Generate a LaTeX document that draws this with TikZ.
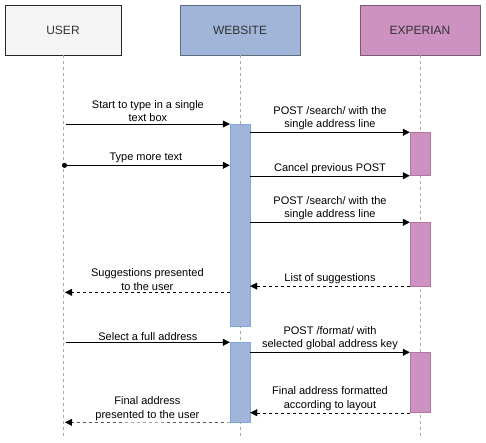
\documentclass[tikz,border=0pt]{standalone}
\usepackage{fontspec}
\setmainfont{Liberation Sans}
\usetikzlibrary{arrows.meta,positioning}

\definecolor{usergray}{HTML}{F5F5F5}
\definecolor{webblue}{HTML}{A0B5D8}
\definecolor{webedge}{HTML}{5F6B7C}
\definecolor{webbar}{HTML}{7EA6E0}
\definecolor{expink}{HTML}{CD92C1}
\definecolor{expedge}{HTML}{7A5A73}
\definecolor{expbar}{HTML}{B5739D}
\definecolor{lifegray}{HTML}{AAAAAA}

\begin{document}
\begin{tikzpicture}[x=1pt,y=-1pt,
    font=\fontsize{11}{13.5}\selectfont,
    head/.style={draw,minimum height=50pt,text=black!80,font=\fontsize{12}{14}\selectfont},
    bar/.style={draw,anchor=north,minimum width=20pt,inner sep=0pt},
    life/.style={lifegray,dash pattern=on 3pt off 3pt},
    msg/.style={-{Triangle[length=7pt,width=7pt]}},
    reply/.style={msg,dash pattern=on 3pt off 3pt},
    lbl/.style={midway,above,align=center,inner sep=2pt}]
      \useasboundingbox (0,0) rectangle (486,442);

      \node[head,fill=usergray,draw=black!85,minimum width=116pt] (user) at (63,30) {USER};
      \node[head,fill=webblue,draw=webedge,minimum width=120pt] (web) at (240,30) {WEBSITE};
      \node[head,fill=expink,draw=expedge,minimum width=120pt] (exp) at (420,30) {EXPERIAN};

      \coordinate (user_end) at (63,437);
      \coordinate (web_end) at (240,437);
      \coordinate (exp_end) at (420,437);
      \draw[life] (user) -- (user_end);
      \draw[life] (web) -- (web_end);
      \draw[life] (exp) -- (exp_end);

      \node[bar,fill=webblue,draw=webbar,minimum height=202pt] (web_a1) at (240,124) {};
      \node[bar,fill=webblue,draw=webbar,minimum height=80pt] (web_a2) at (240,342.3) {};
      \node[bar,fill=expink,draw=expbar,minimum height=43pt] (exp_a1) at (420,132.3) {};
      \node[bar,fill=expink,draw=expbar,minimum height=63.4pt] (exp_a2) at (420,222.3) {};
      \node[bar,fill=expink,draw=expbar,minimum height=60pt] (exp_a3) at (420,352.3) {};

      \coordinate (u_1) at (66,124);
      \coordinate (u_2) at (62,165.3);
      \coordinate (u_3) at (65,292.3);
      \coordinate (u_4) at (66,342.3);
      \coordinate (u_5) at (65,422.3);

      \draw[msg] (u_1) -- (web_a1.north west)
        node[lbl] {Start to type in a single\\text box};
      \draw[msg] (web_a1.east |- exp_a1.north) -- (exp_a1.north west)
        node[lbl] {POST /search/ with the\\single address line};
      \draw[{Circle[length=5pt]}-{Triangle[length=7pt,width=7pt]}] (u_2) -- (web_a1.west |- u_2)
        node[lbl] {Type more text};
      \draw[msg] (web_a1.east |- exp_a1.south) -- (exp_a1.south west)
        node[lbl] {Cancel previous POST};
      \draw[msg] (web_a1.east |- exp_a2.north) -- (exp_a2.north west)
        node[lbl] {POST /search/ with the\\single address line};
      \draw[reply] (exp_a2.south west) -- (web_a1.east |- exp_a2.south)
        node[lbl] {List of suggestions};
      \draw[reply] (web_a1.west |- u_3) -- (u_3)
        node[lbl] {Suggestions presented\\to the user};

      \draw[msg] (u_4) -- (web_a2.north west)
        node[lbl] {Select a full address};
      \draw[msg] (web_a2.east |- exp_a3.north) -- (exp_a3.north west)
        node[lbl] {POST /format/ with\\selected global address key};
      \draw[reply] (exp_a3.south west) -- (web_a2.east |- exp_a3.south)
        node[lbl] {Final address formatted\\according to layout};
      \draw[reply] (web_a2.south west) -- (u_5)
        node[lbl] {Final address\\presented to the user};
\end{tikzpicture}
\end{document}
